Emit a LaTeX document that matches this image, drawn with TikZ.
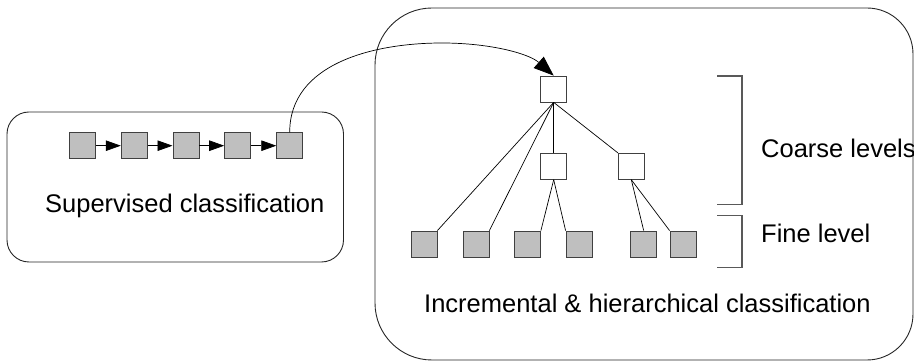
\documentclass[tikz,border=0pt]{standalone}
\usepackage{fontspec}
\setmainfont{Liberation Sans}
\usetikzlibrary{arrows.meta}
\begin{document}
\begin{tikzpicture}[x=1pt,y=-1pt,
  leaf/.style={draw=black!75,fill=black!25,line width=0.8pt,minimum size=26pt,inner sep=0pt},
  inner/.style={draw=black!75,fill=white,line width=0.8pt,minimum size=26pt,inner sep=0pt},
  edge/.style={draw=black,line width=0.7pt},
  frame/.style={draw=black!85,line width=0.9pt},
  brack/.style={draw=black!65,line width=1.1pt},
  lbl/.style={anchor=base west,inner sep=0pt,font=\fontsize{25.5}{30}\selectfont}]
\useasboundingbox (0,0) rectangle (914,363);
% left box
\draw[frame,rounded corners=22pt] (7,112) rectangle (343.5,262);
% right box
\draw[frame] (375,65) .. controls (375,33.5) and (400.5,8) .. (432,8)
  -- (867,8) .. controls (892.4,8) and (913,28.6) .. (913,54)
  -- (913,314) .. controls (913,339.4) and (892.4,360) .. (867,360)
  -- (432,360) .. controls (400.5,360) and (375,334.5) .. (375,303) -- cycle;
% left chain
\foreach \i/\x in {1/82.5,2/134.2,3/185.9,4/237.6,5/289.7}
  \node[leaf] (s\i) at (\x,145.7) {};
\foreach \i/\j in {1/2,2/3,3/4,4/5}
  \draw[edge,-{Triangle[length=15pt,width=10.5pt]}] (s\i.east) -- (s\j.west);
\node[lbl] (sup) at (45,213) {Supervised classification};
% hierarchy
\node[inner] (t) at (553.7,89) {};
\node[inner] (m1) at (553.7,166.3) {};
\node[inner] (m2) at (631.3,166.3) {};
\foreach \i/\x in {1/424,2/476,3/527.5,4/579,5/643.7,6/683}
  \node[leaf] (l\i) at (\x,244) {};
\draw[edge] (t.south) -- (l1.north east);
\draw[edge] (t.south) -- (l2.north east);
\draw[edge] (t.south) -- (m1.north);
\draw[edge] (t.south) -- (m2.north west);
\draw[edge] (m1.south) -- (l3.north east);
\draw[edge] (m1.south) -- (l4.north west);
\draw[edge] (m2.south) -- (l5.north);
\draw[edge] (m2.south) -- (l6.north west);
% brackets
\draw[brack] (717,76) -- (742,76) -- (742,204.5) -- (717,204.5);
\draw[brack] (717,215.7) -- (742,215.7) -- (742,267.5) -- (717,267.5);
\node[lbl] (coarse) at (761,158) {Coarse levels};
\node[lbl] (fine) at (761,243) {Fine level};
\node[lbl] (inc) at (424,313) {Incremental \& hierarchical classification};
% connecting curve
\draw[edge,-{Triangle[length=20pt,width=15pt]}] (s5.north)
  .. controls (289.7,63.7) and (373,43) .. (442,43)
  .. controls (490,43) and (528.7,53.5) .. (t.north);
\end{tikzpicture}
\end{document}
